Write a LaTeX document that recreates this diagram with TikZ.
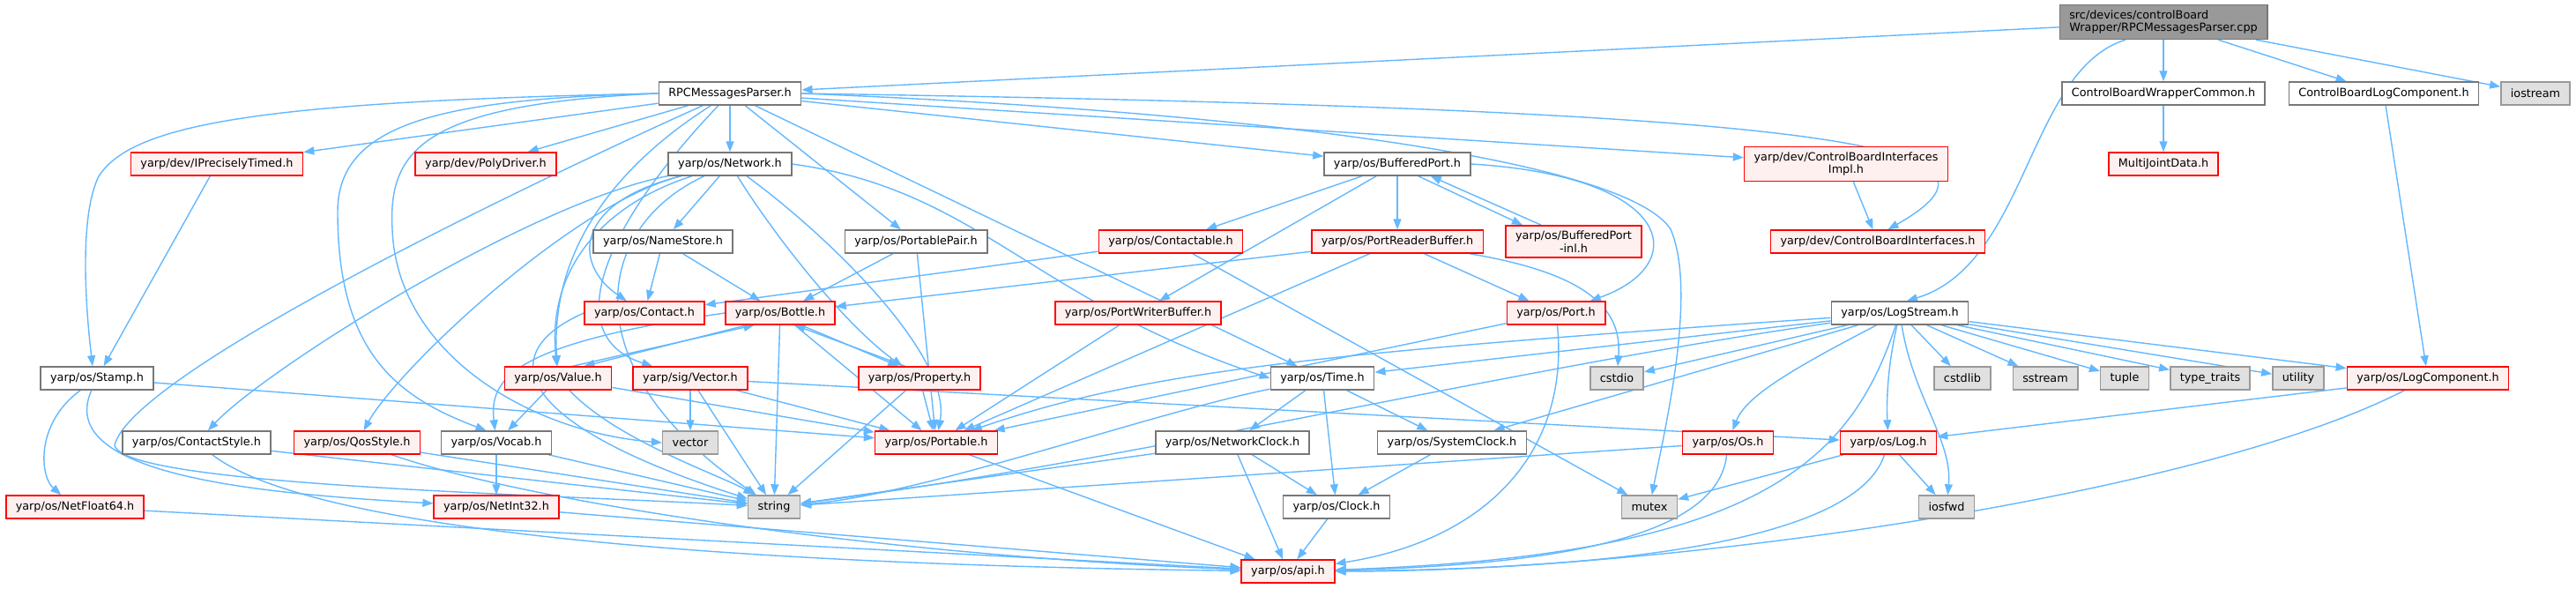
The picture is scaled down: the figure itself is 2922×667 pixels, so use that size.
\documentclass[tikz,border=0pt]{standalone}
\usepackage{fontspec}
\setmainfont{DejaVu Sans}
\usetikzlibrary{arrows.meta}

\definecolor{edgeblue}{HTML}{63B8FF}
\definecolor{filegray}{HTML}{777777}
\definecolor{trfill}{HTML}{FFF0F0}
\definecolor{extfill}{HTML}{E0E0E0}
\definecolor{extgray}{HTML}{999999}
\definecolor{rootfill}{HTML}{999999}

\pgfdeclarelayer{edges}
\pgfsetlayers{edges,main}

\begin{document}
\begin{tikzpicture}[x=1pt, y=-1pt, >={Triangle[length=12pt,width=9pt]}, line width=1.4pt,
  box/.style={draw=filegray, fill=white, line width=1.5pt, font=\fontsize{12.8}{14.5}\selectfont,
    inner xsep=11pt, inner ysep=6pt, minimum height=26pt, align=center},
  trunc/.style={box, draw=red, fill=trfill},
  sys/.style={box, draw=extgray, fill=extfill},
  root/.style={box, fill=rootfill, align=left},
  inc/.style={->, draw=edgeblue, line width=1.4pt}]
  \useasboundingbox (0,0) rectangle (2922,667);
  % --- fila 0 y 1: fichero y cabeceras directas ---
  \node[root]  (cpp)   at (2454,25)  {src/devices/controlBoard\\Wrapper/RPCMessagesParser.cpp};
  \node[box]   (rpc)   at (828,106)  {RPCMessagesParser.h};
  \node[box]   (cbwc)  at (2454,106) {ControlBoardWrapperCommon.h};
  \node[box]   (cblc)  at (2704,106) {ControlBoardLogComponent.h};
  \node[sys]   (iostr) at (2876,106) {iostream};
  % --- fila 2 ---
  \node[trunc] (ipt)   at (246,186)  {yarp/dev/IPreciselyTimed.h};
  \node[trunc] (poly)  at (551,186)  {yarp/dev/PolyDriver.h};
  \node[box]   (net)   at (828,186)  {yarp/os/Network.h};
  \node[box]   (bport) at (1585,186) {yarp/os/BufferedPort.h};
  \node[trunc] (cbii)  at (2094,186) {yarp/dev/ControlBoardInterfaces\\Impl.h};
  \node[trunc] (mjd)   at (2454,186) {MultiJointData.h};
  % --- fila 3 ---
  \node[box]   (names) at (752,274)  {yarp/os/NameStore.h};
  \node[box]   (ppair) at (1039,274) {yarp/os/PortablePair.h};
  \node[trunc] (ctable) at (1328,274) {yarp/os/Contactable.h};
  \node[trunc] (prb)   at (1585,274) {yarp/os/PortReaderBuffer.h};
  \node[trunc] (bpinl) at (1785,274) {yarp/os/BufferedPort\\-inl.h};
  \node[trunc] (cbi)   at (2130,274) {yarp/dev/ControlBoardInterfaces.h};
  % --- fila 4 ---
  \node[trunc] (contact) at (731,355) {yarp/os/Contact.h};
  \node[trunc] (bottle) at (885,355) {yarp/os/Bottle.h};
  \node[trunc] (pwb)   at (1291,355) {yarp/os/PortWriterBuffer.h};
  \node[trunc] (port)  at (1765,355) {yarp/os/Port.h};
  \node[box]   (logstr) at (2155,355) {yarp/os/LogStream.h};
  % --- fila 5 ---
  \node[box]   (stamp) at (110,429)  {yarp/os/Stamp.h};
  \node[trunc] (value) at (633,429)  {yarp/os/Value.h};
  \node[trunc] (svec)  at (783,429)  {yarp/sig/Vector.h};
  \node[trunc] (prop)  at (1043,429) {yarp/os/Property.h};
  \node[box]   (time)  at (1500,429) {yarp/os/Time.h};
  \node[sys]   (cstdio) at (1834,429) {cstdio};
  \node[sys]   (cstdlib) at (2226,429) {cstdlib};
  \node[sys]   (sstream) at (2320,429) {sstream};
  \node[sys]   (tuple) at (2410,429) {tuple};
  \node[sys]   (typetr) at (2507,429) {type\_traits};
  \node[sys]   (utility) at (2607,429) {utility};
  \node[trunc] (logcomp) at (2754,429) {yarp/os/LogComponent.h};
  % --- fila 6 ---
  \node[box]   (cstyle) at (223,502) {yarp/os/ContactStyle.h};
  \node[trunc] (qos)   at (405,502)  {yarp/os/QosStyle.h};
  \node[box]   (vocab) at (563,502)  {yarp/os/Vocab.h};
  \node[sys]   (vector) at (783,502) {vector};
  \node[trunc] (portable) at (1062,502) {yarp/os/Portable.h};
  \node[box]   (nclock) at (1398,502) {yarp/os/NetworkClock.h};
  \node[box]   (sclock) at (1647,502) {yarp/os/SystemClock.h};
  \node[trunc] (os)    at (1960,502) {yarp/os/Os.h};
  \node[trunc] (log)   at (2142,502) {yarp/os/Log.h};
  % --- fila 7 y 8 ---
  \node[trunc] (nf64)  at (85,575)   {yarp/os/NetFloat64.h};
  \node[trunc] (ni32)  at (563,575)  {yarp/os/NetInt32.h};
  \node[sys]   (string) at (878,575) {string};
  \node[box]   (clock) at (1516,575) {yarp/os/Clock.h};
  \node[sys]   (mutex) at (1871,575) {mutex};
  \node[sys]   (iosfwd) at (2208,575) {iosfwd};
  \node[trunc] (api)   at (1461,648) {yarp/os/api.h};

  \begin{pgfonlayer}{edges}
  \fill[white] (0,0) rectangle (2922,667);
  % --- includes del .cpp ---
  \draw[inc] (cpp) -- (rpc);
  \draw[inc] (cpp) -- (cbwc);
  \draw[inc] (cpp) -- (cblc);
  \draw[inc] (cpp) -- (iostr);
  \draw[inc] (cpp.205) .. controls (2300,80) and (2300,300) .. (logstr.60);
  \draw[inc] (cbwc) -- (mjd);
  \draw[inc] (cblc) -- (logcomp);
  \draw[inc] (cbii) -- (cbi);
  % --- RPCMessagesParser.h ---
  \draw[inc] (rpc.west) .. controls (300,115) and (150,140) .. (112,200) .. controls (92,240) and (95,330) .. (stamp.110);
  \draw[inc] (rpc) -- (ipt);
  \draw[inc] (rpc) -- (poly);
  \draw[inc] (rpc) -- (net);
  \draw[inc] (rpc) -- (bport);
  \draw[inc] (rpc) -- (cbii);
  \draw[inc] (rpc.east) .. controls (2150,125) and (2300,170) .. (cbi.50);
  \draw[inc] (rpc) -- (ppair);
  \draw[inc] (rpc) -- (time);
  \draw[inc] (rpc.east) .. controls (1500,130) and (1850,190) .. (1895,260) .. controls (1925,330) and (1890,480) .. (mutex);
  \draw[inc] (rpc.west) .. controls (500,112) and (383,140) .. (383,240) .. controls (383,400) and (450,450) .. (vocab.130);
  \draw[inc] (rpc.west) .. controls (480,118) and (440,170) .. (445,260) .. controls (450,400) and (600,490) .. (vector.west);
  \draw[inc] (rpc) .. controls (640,190) and (150,420) .. (130,505) .. controls (140,550) and (600,560) .. (string);
  \draw[inc] (rpc) .. controls (680,200) and (625,300) .. (value);
  \draw[inc] (rpc) .. controls (690,250) and (630,380) .. (svec);
  % --- Network.h ---
  \draw[inc] (net) -- (names);
  \draw[inc] (net) .. controls (650,230) and (650,300) .. (contact);
  \draw[inc] (net) .. controls (600,230) and (300,420) .. (cstyle);
  \draw[inc] (net) .. controls (650,230) and (450,420) .. (qos);
  \draw[inc] (net) .. controls (690,230) and (620,300) .. (value);
  \draw[inc] (net) .. controls (880,270) and (960,370) .. (prop);
  \draw[inc] (net) .. controls (930,260) and (1080,400) .. (portable);
  \draw[inc] (net.east) .. controls (1110,215) and (1170,340) .. (time.west);
  \draw[inc] (net) .. controls (670,260) and (650,420) .. (string);
  \draw[inc] (names) -- (contact);
  \draw[inc] (names) -- (bottle);
  \draw[inc] (ppair) -- (bottle);
  \draw[inc] (ppair) -- (portable);
  % --- BufferedPort.h ---
  \draw[inc] (bport) -- (ctable);
  \draw[inc] (bport) -- (prb);
  \draw[inc] (bport.-30) -- (bpinl.162);
  \draw[inc] (bpinl.153) -- (bport.-20);
  \draw[inc] (bport) -- (pwb);
  \draw[inc] (bport.east) .. controls (1900,200) and (1920,300) .. (port);
  \draw[inc] (prb) -- (bottle);
  \draw[inc] (prb) -- (port);
  \draw[inc] (prb) .. controls (1800,310) and (1840,350) .. (cstdio);
  \draw[inc] (prb) -- (portable);
  \draw[inc] (ctable) -- (contact);
  \draw[inc] (ctable) -- (mutex);
  \draw[inc] (pwb) -- (portable);
  \draw[inc] (port) -- (portable);
  \draw[inc] (port) .. controls (1780,500) and (1700,610) .. (api);
  % --- Bottle, Value, Property ---
  \draw[inc] (contact.west) .. controls (560,400) and (580,480) .. (string);
  \draw[inc] (bottle.200) -- (value.25);
  \draw[inc] (value.40) -- (bottle.205);
  \draw[inc] (bottle.-30) -- (prop.150);
  \draw[inc] (prop.140) -- (bottle.-40);
  \draw[inc] (bottle) -- (string);
  \draw[inc] (bottle) -- (portable);
  \draw[inc] (bottle.west) .. controls (580,390) and (555,430) .. (vocab);
  \draw[inc] (value) -- (vocab);
  \draw[inc] (value) .. controls (700,500) and (820,540) .. (string);
  \draw[inc] (value) -- (portable);
  \draw[inc] (svec) -- (vector);
  \draw[inc] (svec) -- (string);
  \draw[inc] (svec) -- (portable);
  \draw[inc] (svec) -- (log);
  \draw[inc] (prop) -- (portable);
  \draw[inc] (prop) -- (string);
  % --- Stamp y tipos de red ---
  \draw[inc] (ipt) -- (stamp);
  \draw[inc] (stamp) -- (portable);
  \draw[inc] (stamp) .. controls (40,480) and (45,540) .. (nf64);
  \draw[inc] (stamp) .. controls (60,540) and (300,560) .. (ni32);
  \draw[inc] (cstyle) -- (string);
  \draw[inc] (cstyle) .. controls (350,600) and (800,640) .. (api);
  \draw[inc] (qos) -- (string);
  \draw[inc] (qos) .. controls (600,570) and (1000,630) .. (api);
  \draw[inc] (vocab) -- (ni32);
  \draw[inc] (vocab) -- (string);
  \draw[inc] (nf64) -- (api);
  \draw[inc] (ni32) -- (api);
  \draw[inc] (portable) -- (api);
  % --- Time y relojes ---
  \draw[inc] (time) -- (nclock);
  \draw[inc] (time) -- (sclock);
  \draw[inc] (time) -- (clock);
  \draw[inc] (time) .. controls (1300,470) and (1050,560) .. (string);
  \draw[inc] (nclock) -- (clock);
  \draw[inc] (nclock) -- (api);
  \draw[inc] (nclock) -- (string);
  \draw[inc] (sclock) -- (clock);
  \draw[inc] (clock) -- (api);
  % --- LogStream, Log, Os ---
  \draw[inc] (os) .. controls (1950,600) and (1800,640) .. (api);
  \draw[inc] (os) -- (string);
  \draw[inc] (log) .. controls (2110,600) and (1900,645) .. (api);
  \draw[inc] (log) -- (mutex);
  \draw[inc] (log) -- (iosfwd);
  \draw[inc] (logcomp) -- (log);
  \draw[inc] (logcomp) .. controls (2500,560) and (1900,648) .. (api);
  \draw[inc] (logstr) -- (time);
  \draw[inc] (logstr) -- (cstdio);
  \draw[inc] (logstr) .. controls (1500,400) and (1300,420) .. (portable);
  \draw[inc] (logstr) -- (sclock);
  \draw[inc] (logstr) .. controls (2030,420) and (1980,450) .. (os);
  \draw[inc] (logstr) .. controls (2140,420) and (2140,460) .. (log);
  \draw[inc] (logstr) .. controls (2170,450) and (2215,500) .. (iosfwd);
  \draw[inc] (logstr) .. controls (2100,520) and (2000,630) .. (api);
  \draw[inc] (logstr) .. controls (1700,420) and (1300,520) .. (string);
  \draw[inc] (logstr) -- (cstdlib);
  \draw[inc] (logstr) -- (sstream);
  \draw[inc] (logstr) -- (tuple);
  \draw[inc] (logstr) -- (typetr);
  \draw[inc] (logstr) -- (utility);
  \draw[inc] (logstr) -- (logcomp);
  \end{pgfonlayer}
\end{tikzpicture}
\end{document}
